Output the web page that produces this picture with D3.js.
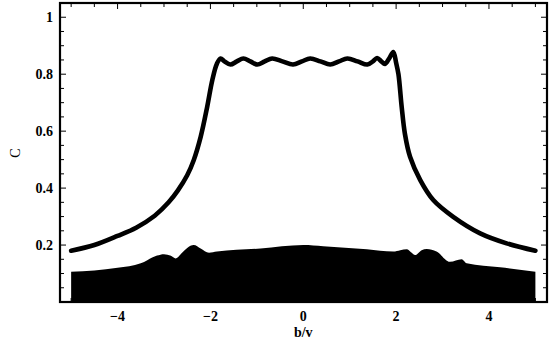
<!DOCTYPE html>
<html><head><meta charset="utf-8">
<script src="https://cdn.jsdelivr.net/npm/d3@7"></script>
<style>body{margin:0;background:#fff}svg{display:block}</style>
</head><body>
<script>
// Upper curve C(b/v)
const upperX = [-5.0,-4.5,-4.0,-3.6,-3.2,-2.9,-2.7,-2.5,-2.36,-2.21,-2.07,-1.96,-1.86,-1.78,-1.70,-1.57,-1.43,-1.29,-1.14,-0.99,-0.83,-0.67,-0.45,-0.22,-0.03,0.15,0.37,0.58,0.77,0.95,1.17,1.38,1.50,1.59,1.68,1.76,1.85,1.94,2.00,2.05,2.12,2.19,2.30,2.52,2.80,3.23,3.81,4.38,5.0];
const upperY = [0.180,0.200,0.232,0.261,0.303,0.350,0.392,0.445,0.498,0.580,0.685,0.779,0.837,0.855,0.845,0.834,0.845,0.855,0.845,0.834,0.845,0.855,0.845,0.834,0.845,0.855,0.845,0.834,0.845,0.855,0.845,0.834,0.845,0.857,0.845,0.836,0.855,0.878,0.840,0.800,0.685,0.590,0.510,0.428,0.358,0.299,0.241,0.206,0.180];
// Lower filled (rapidly oscillating) region: upper envelope
const lowerX = [-5.0,-4.0,-3.5,-3.36,-3.15,-3.0,-2.85,-2.75,-2.6,-2.5,-2.36,-2.21,-2.03,-1.86,-0.92,0.0,0.43,1.37,1.94,2.09,2.23,2.32,2.41,2.55,2.66,2.87,3.16,3.41,3.52,4.24,5.0];
const lowerTop = [0.106,0.120,0.136,0.147,0.163,0.168,0.162,0.153,0.175,0.190,0.200,0.188,0.173,0.177,0.188,0.200,0.196,0.185,0.177,0.182,0.185,0.175,0.165,0.182,0.186,0.177,0.141,0.150,0.136,0.122,0.106];
const xTicks = [-4,-2,0,2,4];
const yTicks = [0.2,0.4,0.6,0.8,1];
const xLabel = "b/v", yLabel = "C";

const W=557,H=345, L=60,R=547,T=3,B=302;
const svg=d3.select("body").append("svg").attr("width",W).attr("height",H);
const x=d3.scaleLinear().domain([-5.24,5.25]).range([L,R]);
const y=d3.scaleLinear().domain([0,1.05]).range([B,T]);

svg.append("clipPath").attr("id","c").append("rect").attr("x",L).attr("y",T).attr("width",R-L).attr("height",B-T);
const g=svg.append("g").attr("clip-path","url(#c)");

const low=lowerX.map((v,i)=>[v,lowerTop[i]]);
g.append("path").datum(low)
  .attr("d",d3.area().x(d=>x(d[0])).y0(y(0)).y1(d=>y(d[1])).curve(d3.curveMonotoneX))
  .attr("fill","#000");

const up=upperX.map((v,i)=>[v,upperY[i]]);
g.append("path").datum(up)
  .attr("d",d3.line().x(d=>x(d[0])).y(d=>y(d[1])).curve(d3.curveCatmullRom.alpha(0.5)))
  .attr("fill","none").attr("stroke","#000").attr("stroke-width",4.6).attr("stroke-linecap","round").attr("stroke-linejoin","round");

// ticks on all sides
const xMinor=d3.range(-5,5.001,0.5), yMinor=d3.range(0.05,1.0501,0.05);
const tk=svg.append("g").attr("stroke","#000").attr("stroke-width",1);
xMinor.forEach(v=>{
  const maj=Math.abs(v%2)<1e-9, len=maj?6:4;
  tk.append("line").attr("x1",x(v)).attr("x2",x(v)).attr("y1",B).attr("y2",B-len);
  tk.append("line").attr("x1",x(v)).attr("x2",x(v)).attr("y1",T).attr("y2",T+len);
});
yMinor.forEach(v=>{
  const maj=Math.abs(Math.round(v*100)%20)<1e-6, len=maj?6:4;
  tk.append("line").attr("x1",L).attr("x2",L+len).attr("y1",y(v)).attr("y2",y(v));
  tk.append("line").attr("x1",R).attr("x2",R-len).attr("y1",y(v)).attr("y2",y(v));
});

svg.append("rect").attr("x",L).attr("y",T).attr("width",R-L).attr("height",B-T)
  .attr("fill","none").attr("stroke","#000").attr("stroke-width",2.2);

const font="'Liberation Serif','DejaVu Serif',serif";
const fmt=v=>(v<0?"\u2212":"")+Math.abs(v);
svg.append("g").selectAll("text").data(xTicks).join("text")
  .attr("x",d=>x(d)).attr("y",321).attr("text-anchor","middle")
  .attr("font-family",font).attr("font-size",14).attr("font-weight","bold").text(fmt);
svg.append("g").selectAll("text").data(yTicks).join("text")
  .attr("x",53).attr("y",d=>y(d)+5).attr("text-anchor","end")
  .attr("font-family",font).attr("font-size",14).attr("font-weight","bold").text(d=>String(d));
svg.append("text").attr("x",x(0)).attr("y",337).attr("text-anchor","middle")
  .attr("font-family",font).attr("font-size",14).attr("font-weight","bold").text(xLabel);
svg.append("text").attr("transform","translate(20,153) rotate(-90)").attr("text-anchor","middle")
  .attr("font-family",font).attr("font-size",14).text(yLabel);
</script>
</body></html>
